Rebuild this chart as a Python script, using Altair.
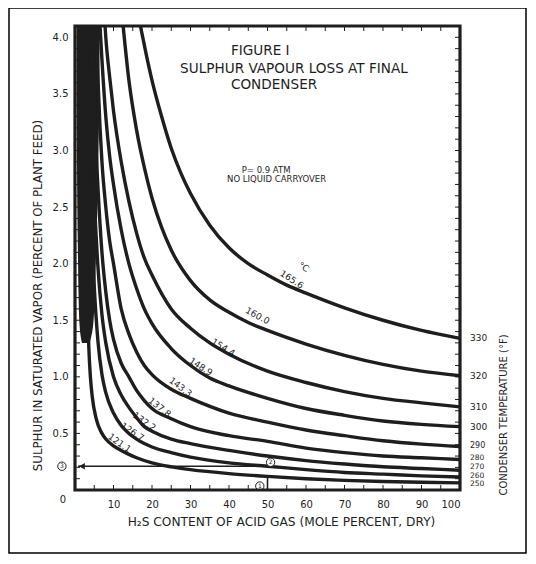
import altair as alt
import pandas as pd

W, H = 385, 464
FONT = "DejaVu Sans"
INK = "#1e1e1e"

# ---- curve data (H2S % vs sulphur loss %), one per condenser temperature ----
curve_c = ["165.6", "160.0", "154.4", "148.9", "143.3", "137.8", "132.2", "126.7", "121.1"]
curve_f = ["330", "320", "310", "300", "290", "280", "270", "260", "250"]

x_165 = [17, 18.5, 20, 22.5, 25, 27.5, 30, 35, 40, 45, 50, 55, 60, 70, 80, 90, 100]
y_165 = [4.1, 3.85, 3.62, 3.3, 3.02, 2.8, 2.62, 2.34, 2.14, 2.0, 1.9, 1.81, 1.74, 1.61, 1.5, 1.41, 1.34]
x_160 = [12.5, 14, 16, 18, 20, 22.5, 25, 30, 35, 40, 45, 50, 60, 70, 80, 90, 100]
y_160 = [4.1, 3.62, 3.18, 2.85, 2.58, 2.32, 2.12, 1.85, 1.68, 1.57, 1.48, 1.41, 1.29, 1.19, 1.11, 1.05, 1.01]
x_154 = [7.8, 8, 9, 10, 12, 14, 16, 18, 20, 25, 30, 35, 40, 50, 60, 70, 80, 90, 100]
y_154 = [4.1, 4.0, 3.65, 3.35, 2.9, 2.55, 2.27, 2.05, 1.9, 1.6, 1.43, 1.3, 1.2, 1.05, 0.95, 0.87, 0.81, 0.77, 0.735]
x_148 = [6.5, 7, 8, 9, 10, 12, 14, 16, 18, 20, 25, 30, 35, 40, 50, 60, 70, 80, 90, 100]
y_148 = [4.1, 3.8, 3.3, 2.95, 2.7, 2.3, 2.0, 1.78, 1.6, 1.47, 1.25, 1.1, 0.99, 0.92, 0.81, 0.72, 0.66, 0.61, 0.58, 0.56]
x_143 = [5.5, 6, 6.5, 7, 8, 9, 10, 12, 14, 16, 18, 20, 25, 30, 40, 50, 60, 70, 80, 90, 100]
y_143 = [4.1, 3.6, 3.2, 2.9, 2.5, 2.2, 2.0, 1.6, 1.38, 1.22, 1.1, 1.02, 0.89, 0.81, 0.68, 0.6, 0.53, 0.48, 0.435, 0.405, 0.385]
x_137 = [4.5, 5, 5.5, 6, 7, 8, 9, 10, 12, 14, 16, 18, 20, 25, 30, 40, 50, 60, 70, 80, 90, 100]
y_137 = [4.1, 3.5, 3.0, 2.65, 2.1, 1.75, 1.5, 1.33, 1.12, 1.0, 0.88, 0.79, 0.72, 0.63, 0.56, 0.48, 0.43, 0.37, 0.33, 0.3, 0.285, 0.27]
x_132 = [3.7, 4, 4.5, 5, 6, 7, 8, 10, 12, 14, 16, 18, 20, 25, 30, 40, 50, 60, 70, 80, 90, 100]
y_132 = [4.1, 3.6, 3.1, 2.6, 1.95, 1.55, 1.3, 1.0, 0.84, 0.73, 0.64, 0.56, 0.52, 0.45, 0.41, 0.35, 0.3, 0.26, 0.23, 0.205, 0.19, 0.175]
x_126 = [2.8, 3.3, 4, 5, 6, 7, 8, 10, 12, 14, 16, 18, 20, 25, 30, 40, 50, 60, 70, 80, 90, 100]
y_126 = [4.1, 3.4, 2.6, 1.8, 1.3, 1.02, 0.86, 0.68, 0.57, 0.5, 0.45, 0.41, 0.38, 0.33, 0.29, 0.24, 0.21, 0.18, 0.155, 0.14, 0.125, 0.115]
x_121 = [2, 2.4, 2.8, 3.2, 3.6, 4.0, 4.5, 5.5, 7, 8, 10, 12, 14, 16, 20, 25, 30, 40, 50, 60, 70, 80, 90, 100]
y_121 = [4.1, 3.1, 2.3, 1.7, 1.25, 1.0, 0.82, 0.63, 0.5, 0.45, 0.39, 0.35, 0.315, 0.285, 0.24, 0.205, 0.18, 0.145, 0.12, 0.1, 0.085, 0.075, 0.068, 0.063]

curve_x = [x_165, x_160, x_154, x_148, x_143, x_137, x_132, x_126, x_121]
curve_y = [y_165, y_160, y_154, y_148, y_143, y_137, y_132, y_126, y_121]

# solid ink band where the low-temperature curves crowd together near the y axis
band_y = [4.1, 3.5, 3.0, 2.5, 2.0, 1.6, 1.4, 1.3]
band_x0 = [0.4, 0.4, 0.5, 0.6, 0.8, 1.0, 1.3, 1.8]
band_x1 = [6.4, 6.3, 6.1, 5.8, 5.4, 5.0, 4.5, 3.8]

# curve labels (°C) placed along the curves
lab_text = ["165.6", "160.0", "154.4", "148.9", "143.3", "137.8", "132.2", "126.7", "121.1"]
lab_x = [56.3, 47.4, 38.5, 32.7, 27.4, 22.0, 18.0, 14.9, 11.6]
lab_y = [1.86, 1.54, 1.26, 1.09, 0.91, 0.73, 0.605, 0.515, 0.415]
lab_angle = [33, 28, 32, 33, 37, 38, 35, 33, 35]

# right-hand °F labels (crowded at the bottom, as in the original)
f_y = [1.34, 1.01, 0.735, 0.56, 0.385, 0.28, 0.2, 0.125, 0.05]
f_size = [9, 9, 9, 9, 8, 7.5, 7.5, 7.5, 7.5]

# worked example (circled steps)
ex_x = 50
ex_y = 0.21
ex_top = 0.13
mark_num = ["1", "2", "3"]
mark_x = [48.0, 50.8, -3.4]
mark_y = [0.035, 0.245, 0.21]

# axis tick labels
x_ticks = [10, 20, 30, 40, 50, 60, 70, 80, 90, 100]
y_ticks = [0.5, 1.0, 1.5, 2.0, 2.5, 3.0, 3.5, 4.0]

rows = []
for name, xs_, ys_ in zip(curve_c, curve_x, curve_y):
    for i, (a, b) in enumerate(zip(xs_, ys_)):
        rows.append({"curve": name, "x": a, "y": b, "o": i})
df = pd.DataFrame(rows)

xs = alt.Scale(domain=[0, 100], nice=False, zero=False)
ys = alt.Scale(domain=[0, 4.1], nice=False, zero=False)

xaxis = alt.Axis(values=x_ticks, format="d", domain=False, ticks=False, grid=False,
                 labelFont=FONT, labelFontSize=10, labelColor=INK, labelPadding=9,
                 title="H₂S CONTENT OF ACID GAS (MOLE PERCENT, DRY)",
                 titleFont=FONT, titleFontSize=12.2, titleFontWeight="normal", titleColor=INK,
                 titleX=206, titleY=31, titleBaseline="middle", titleAnchor="middle")
yaxis = alt.Axis(values=y_ticks, format=".1f", domain=False, ticks=False, grid=False,
                 labelFont=FONT, labelFontSize=10, labelColor=INK, labelPadding=7,
                 title="SULPHUR IN SATURATED VAPOR (PERCENT OF PLANT FEED)",
                 titleFont=FONT, titleFontSize=11.8, titleFontWeight="normal", titleColor=INK,
                 titleX=-38, titleY=269, titleAngle=270, titleBaseline="middle", titleAlign="center")

X = lambda f="x": alt.X(f"{f}:Q", scale=xs, axis=xaxis)
Y = lambda f="y": alt.Y(f"{f}:Q", scale=ys, axis=yaxis)

lines = alt.Chart(df).mark_line(color=INK, strokeWidth=3.4, interpolate="monotone").encode(
    x=X(), y=Y(), detail="curve:N", order="o:Q")

bdf = pd.DataFrame({"y": band_y, "x": band_x0, "x2": band_x1})
band = alt.Chart(bdf).mark_area(color=INK, orient="horizontal", interpolate="monotone").encode(
    y=Y(), x=X(), x2="x2:Q")

# curve labels
ldf = pd.DataFrame({"t": lab_text, "x": lab_x, "y": lab_y, "a": lab_angle})
labels = alt.Chart(ldf).mark_text(font=FONT, fontSize=9, color=INK).encode(
    x=X(), y=Y(), text="t:N", angle=alt.Angle("a:Q", scale=None))
degc = alt.Chart(pd.DataFrame({"t": ["°C"], "x": [59.4], "y": [1.97]})).mark_text(
    font=FONT, fontSize=9, color=INK, angle=33).encode(x=X(), y=Y(), text="t:N")

fdf = pd.DataFrame({"t": curve_f, "y": f_y, "s": f_size})
flabels = alt.Chart(fdf).mark_text(font=FONT, color=INK, align="left", baseline="middle").encode(
    x=alt.value(W + 10), y=Y(), text="t:N", size=alt.Size("s:Q", scale=None, legend=None))

# titles inside the plot
tdf = pd.DataFrame({
    "t": ["FIGURE I", "SULPHUR VAPOUR LOSS AT FINAL", "CONDENSER"],
    "x": [40.5, 27.3, 40.5], "y": [3.875, 3.72, 3.575]})
titles = alt.Chart(tdf).mark_text(font=FONT, fontSize=13.6, color=INK, align="left",
                                  baseline="middle").encode(x=X(), y=Y(), text="t:N")
ndf = pd.DataFrame({"t": ["P= 0.9  ATM", "NO LIQUID CARRYOVER"], "x": [43.3, 39.5], "y": [2.83, 2.745]})
notes = alt.Chart(ndf).mark_text(font=FONT, fontSize=8.5, color=INK, align="left",
                                 baseline="middle").encode(x=X(), y=Y(), text="t:N")

# worked example: vertical line, arrow, circled numbers
vdf = pd.DataFrame({"x": [ex_x], "y": [0], "y2": [ex_top]})
vline = alt.Chart(vdf).mark_rule(color=INK, strokeWidth=1.6).encode(x=X(), y=Y(), y2="y2:Q")
hdf = pd.DataFrame({"x": [ex_x + 1], "x2": [0.8], "y": [ex_y]})
hline = alt.Chart(hdf).mark_rule(color=INK, strokeWidth=1.6).encode(x=X(), x2="x2:Q", y=Y())
adf = pd.DataFrame({"x": [1.8], "y": [ex_y]})
arrow = alt.Chart(adf).mark_point(shape="triangle-left", filled=True, color=INK, size=45,
                                  opacity=1).encode(x=X(), y=Y())
mdf = pd.DataFrame({"t": mark_num, "x": mark_x, "y": mark_y})
circles = alt.Chart(mdf).mark_point(shape="circle", filled=True, fill="white", stroke=INK,
                                    strokeWidth=1, size=70, opacity=1).encode(x=X(), y=Y())
cnums = alt.Chart(mdf).mark_text(font=FONT, fontSize=6, color=INK).encode(x=X(), y=Y(), text="t:N")

# inward tick marks on all four sides
xt = pd.DataFrame({"x": [v * 5 for v in range(21)]})
yt = pd.DataFrame({"y": [v / 10 for v in range(42)]})
t_top = alt.Chart(xt).mark_rule(color=INK, strokeWidth=1).encode(x=X(), y=alt.value(0), y2=alt.value(5))
t_bot = alt.Chart(xt).mark_rule(color=INK, strokeWidth=1).encode(x=X(), y=alt.value(H), y2=alt.value(H - 5))
t_left = alt.Chart(yt).mark_rule(color=INK, strokeWidth=1).encode(y=Y(), x=alt.value(0), x2=alt.value(5))
t_right = alt.Chart(yt).mark_rule(color=INK, strokeWidth=1).encode(y=Y(), x=alt.value(W), x2=alt.value(W - 5))

# corner zero, right-hand axis title, plot frame, outer frame
one = pd.DataFrame({"t": ["0"]})
zero = alt.Chart(one).mark_text(font=FONT, fontSize=10, color=INK).encode(
    x=alt.value(-12), y=alt.value(H + 10), text="t:N")
rtitle = alt.Chart(pd.DataFrame({"t": ["CONDENSER TEMPERATURE (°F)"]})).mark_text(
    font=FONT, fontSize=10, color=INK, angle=270, baseline="middle").encode(
    x=alt.value(W + 44), y=alt.value(389), text="t:N")
pframe = alt.Chart(one).mark_rect(fillOpacity=0, stroke=INK, strokeWidth=3.2).encode(
    x=alt.value(0), x2=alt.value(W), y=alt.value(0), y2=alt.value(H))
frame = alt.Chart(one).mark_rect(fillOpacity=0, stroke="black", strokeWidth=1.5).encode(
    x=alt.value(-66), x2=alt.value(451), y=alt.value(-18), y2=alt.value(527))

chart = alt.layer(
    band, lines, t_top, t_bot, t_left, t_right, labels, degc, flabels, titles, notes,
    vline, hline, arrow, circles, cnums, zero, rtitle, pframe, frame
).properties(
    width=W, height=H,
    autosize=alt.AutoSizeParams(type="none"),
    padding={"left": 67, "top": 18, "right": 68, "bottom": 64},
).configure(background="white").configure_view(stroke=None)

chart.save("out.html", embed_options={"renderer": "svg", "actions": False})
